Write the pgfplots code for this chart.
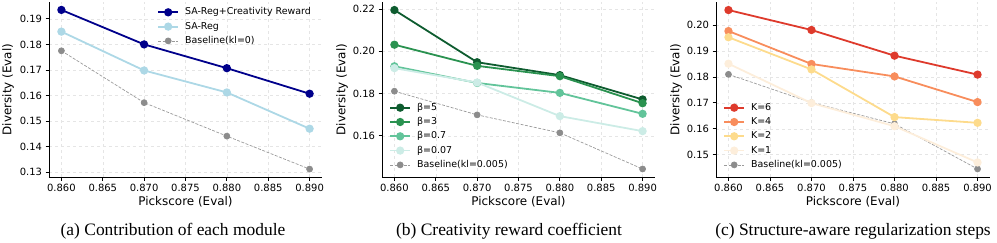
\documentclass[border=0pt]{standalone}
\usepackage{fontspec}
\setmainfont{DejaVu Sans}
\newfontfamily\capfont{Liberation Serif}
\usepackage{pgfplots}
\pgfplotsset{compat=1.18}

\definecolor{cDark}{HTML}{00008B}
\definecolor{cLight}{HTML}{ADD8E6}
\definecolor{gA}{HTML}{0E5C2F}
\definecolor{gB}{HTML}{2A9250}
\definecolor{gC}{HTML}{62C49A}
\definecolor{gD}{HTML}{CCECE6}
\definecolor{rA}{HTML}{DE3A2C}
\definecolor{rB}{HTML}{F88D5C}
\definecolor{rC}{HTML}{FDDB8C}
\definecolor{rD}{HTML}{FDEEDB}
\definecolor{baseMk}{HTML}{8C8C8C}
\definecolor{baseLn}{HTML}{9A9A9A}

\pgfplotsset{
  panel/.style={
    scale only axis, height=175bp,
    axis x line*=bottom, axis y line*=left,
    axis line style={black, line width=0.9bp},
    xtick align=outside, ytick align=outside,
    major tick length=3.5bp, tick style={black, line width=0.8bp},
    xmin=0.8585, xmax=0.8915,
    xtick={0.86,0.865,0.87,0.875,0.88,0.885,0.89},
    xticklabel style={/pgf/number format/.cd, fixed, fixed zerofill, precision=3},
    yticklabel style={/pgf/number format/.cd, fixed, fixed zerofill, precision=2},
    /pgf/number format/assume math mode=true,
    grid=major, grid style={black!10, dashed, line width=0.5bp},
    tick label style={font=\fontsize{10}{12}\selectfont},
    label style={font=\fontsize{12}{14}\selectfont},
    xlabel={Pickscore (Eval)}, ylabel={Diversity (Eval)},
    xlabel style={at={(axis description cs:0.5,-0.143)}, anchor=center},
    legend style={draw=none, fill=none, font=\fontsize{9.5}{11}\selectfont,
      nodes={inner sep=1bp, text height=7bp, text depth=2bp}, row sep=3.3bp,
      /tikz/every odd column/.append style={column sep=5bp}},
    legend cell align=left,
    legend image code/.code={
      \draw[mark repeat=2,mark phase=2] plot coordinates {(0bp,0bp) (10bp,0bp) (20bp,0bp)};},
  },
  ln/.style={color=#1, line width=1.8bp, mark=*, mark size=3.2bp, mark options={solid, fill=#1, draw=#1}},
  base/.style={color=baseLn, line width=0.7bp, dash pattern=on 3bp off 1.5bp,
    mark=*, mark size=3bp, mark options={solid, fill=baseMk, draw=baseMk}},
}

\begin{document}
\begin{tikzpicture}
\path[use as bounding box] (0,0) rectangle (997bp,-243bp);

% (a)
\begin{axis}[panel, at={(49bp,-177bp)}, anchor=south west, width=273bp,
  ymin=0.1281, ymax=0.1966, ytick={0.13,0.14,0.15,0.16,0.17,0.18,0.19},
  ylabel style={at={(axis description cs:-0.150,0.5)}, anchor=center},
  legend style={at={(axis description cs:0.385,0.985)}, anchor=north west}]
\addplot[ln=cDark] coordinates {(0.86,0.1935) (0.87,0.1800) (0.88,0.1707) (0.89,0.1607)};
\addplot[ln=cLight] coordinates {(0.86,0.1850) (0.87,0.1698) (0.88,0.1612) (0.89,0.1470)};
\addplot[base] coordinates {(0.86,0.1775) (0.87,0.1572) (0.88,0.1441) (0.89,0.1312)};
\legend{SA-Reg+Creativity Reward, SA-Reg, Baseline(kl=0)}
\end{axis}

% (b)
\begin{axis}[panel, at={(382bp,-177bp)}, anchor=south west, width=273bp,
  ymin=0.1405, ymax=0.2233, ytick={0.16,0.18,0.20,0.22},
  ylabel style={at={(axis description cs:-0.146,0.5)}, anchor=center},
  legend style={at={(axis description cs:0.015,0.44)}, anchor=north west}]
\addplot[ln=gA] coordinates {(0.86,0.2195) (0.87,0.1948) (0.88,0.1887) (0.89,0.1772)};
\addplot[ln=gB] coordinates {(0.86,0.2031) (0.87,0.1931) (0.88,0.1882) (0.89,0.1754)};
\addplot[ln=gC] coordinates {(0.86,0.1929) (0.87,0.1850) (0.88,0.1803) (0.89,0.1704)};
\addplot[ln=gD] coordinates {(0.86,0.1920) (0.87,0.1852) (0.88,0.1693) (0.89,0.1622)};
\addplot[base] coordinates {(0.86,0.1811) (0.87,0.1699) (0.88,0.1614) (0.89,0.1443)};
\legend{β=5, β=3, β=0.7, β=0.07, Baseline(kl=0.005)}
\end{axis}

% (c)
\begin{axis}[panel, at={(716bp,-177bp)}, anchor=south west, width=274bp,
  ymin=0.1414, ymax=0.2089, ytick={0.15,0.16,0.17,0.18,0.19,0.20},
  ylabel style={at={(axis description cs:-0.146,0.5)}, anchor=center},
  legend style={at={(axis description cs:0.015,0.44)}, anchor=north west}]
\addplot[base, forget plot] coordinates {(0.86,0.1810) (0.87,0.1701) (0.88,0.1619) (0.89,0.1445)};
\addplot[ln=rA] coordinates {(0.86,0.2058) (0.87,0.1981) (0.88,0.1882) (0.89,0.1809)};
\addplot[ln=rB] coordinates {(0.86,0.1977) (0.87,0.1850) (0.88,0.1802) (0.89,0.1703)};
\addplot[ln=rC] coordinates {(0.86,0.1953) (0.87,0.1829) (0.88,0.1645) (0.89,0.1623)};
\addplot[ln=rD] coordinates {(0.86,0.1851) (0.87,0.1699) (0.88,0.1610) (0.89,0.1470)};
\addlegendimage{base}
\legend{K=6, K=4, K=2, K=1, Baseline(kl=0.005)}
\end{axis}

\node[font=\capfont\fontsize{17.5}{20}\selectfont, anchor=base] at (173bp,-235bp) {(a) Contribution of each module};
\node[font=\capfont\fontsize{17.5}{20}\selectfont, anchor=base] at (509bp,-235bp) {(b) Creativity reward coefficient};
\node[font=\capfont\fontsize{17.5}{20}\selectfont, anchor=base] at (853bp,-235bp) {(c) Structure-aware regularization steps};
\end{tikzpicture}
\end{document}
